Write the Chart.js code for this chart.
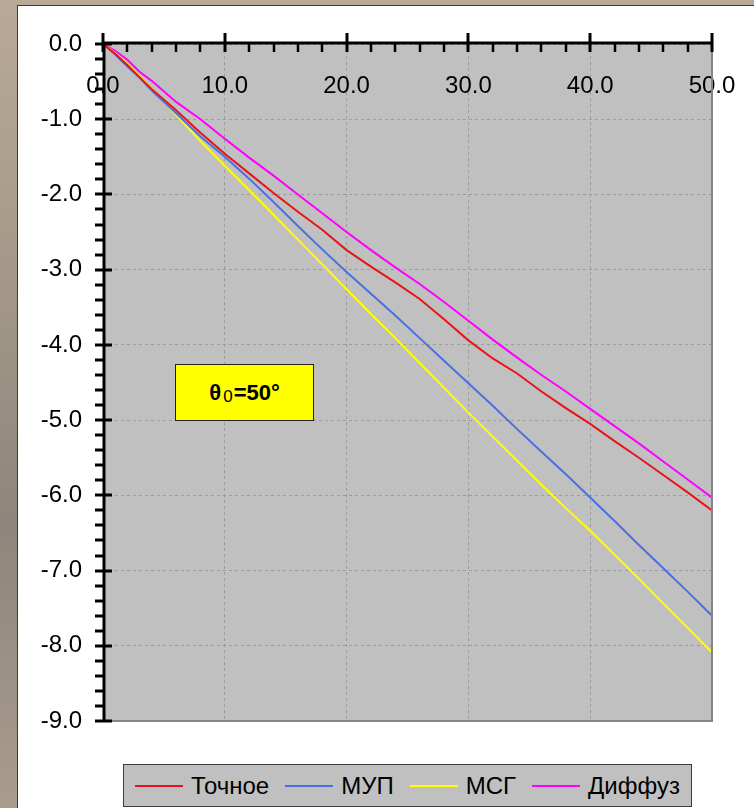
<!DOCTYPE html>
<html>
<head>
<meta charset="utf-8">
<script src="https://cdn.jsdelivr.net/npm/chart.js@4.4.0/dist/chart.umd.min.js"></script>
<style>
  html, body { margin: 0; padding: 0; }
  body {
    width: 754px; height: 808px; overflow: hidden; position: relative;
    background: linear-gradient(180deg, #b8aa96 0%, #a39888 35%, #8e867c 65%, #a89c8d 100%);
    font-family: "Liberation Sans", Arial, sans-serif;
  }
  #panel {
    position: absolute; left: 17px; top: 5px; right: 0; bottom: 0;
    background: #fff; border-left: 1px solid #3a3a3a; border-top: 1px solid #3a3a3a;
  }
  #chart { position: absolute; left: 0; top: 0; }
  #note {
    position: absolute; left: 175px; top: 364px; width: 139px; height: 57px;
    box-sizing: border-box; border: 1px solid #222; background: #ffff00;
    display: flex; align-items: center; justify-content: center;
    font: bold 22px "Liberation Sans", Arial, sans-serif; color: #000;
  }
  #note sub { font-size: 17px; font-weight: normal; position: relative; top: 4px; vertical-align: baseline; margin: 0 1px 0 2px; }
  #legend {
    position: absolute; left: 123px; top: 764px; width: 569px; height: 43px;
    box-sizing: border-box; border: 1px solid #3c3c3c; background: #c0c0c0;
    display: flex; align-items: center; justify-content: center; gap: 16px;
    font: 24px "Liberation Sans", Arial, sans-serif; color: #000;
  }
  #legend .item { display: flex; align-items: center; }
  #legend .swatch { width: 48px; height: 2px; margin-right: 8px; }
</style>
</head>
<body>
<div id="panel"></div>
<canvas id="chart" width="754" height="808"></canvas>
<div id="note">θ<sub>0</sub>=50°</div>
<div id="legend"></div>
<script>
// x positions shared by all curves
const xValues = [0, 1, 2, 3, 4, 6, 8, 10, 12, 14, 16, 18, 20, 22, 24, 26, 28, 30,
  32, 34, 36, 38, 40, 42, 44, 46, 48, 50];

const exact = [0, -0.13, -0.28, -0.44, -0.60, -0.88, -1.18, -1.46, -1.72, -1.98, -2.23, -2.47,
  -2.74, -2.96, -3.17, -3.39, -3.66, -3.94, -4.18, -4.38, -4.62, -4.84, -5.05, -5.28, -5.50,
  -5.73, -5.96, -6.20];
const mup = [0, -0.14, -0.30, -0.45, -0.62, -0.92, -1.23, -1.50, -1.79, -2.10, -2.42, -2.73,
  -3.03, -3.32, -3.61, -3.91, -4.21, -4.51, -4.81, -5.12, -5.42, -5.72, -6.03, -6.34, -6.66,
  -6.97, -7.28, -7.60];
const msg = [0, -0.12, -0.27, -0.43, -0.60, -0.94, -1.29, -1.62, -1.94, -2.27, -2.60, -2.93,
  -3.26, -3.59, -3.91, -4.24, -4.57, -4.90, -5.22, -5.54, -5.86, -6.17, -6.47, -6.79, -7.11,
  -7.44, -7.76, -8.09];
const diffuz = [0, -0.09, -0.21, -0.37, -0.49, -0.77, -1.00, -1.26, -1.51, -1.75, -2.00, -2.25,
  -2.50, -2.74, -2.97, -3.19, -3.43, -3.68, -3.93, -4.17, -4.40, -4.62, -4.85, -5.08, -5.31,
  -5.55, -5.79, -6.03];

const seriesNames = ['Точное', 'МУП', 'МСГ', 'Диффуз'];
const seriesColors = ['#e8141b', '#4a6fe3', '#ffff00', '#ff00ff'];

const toPoints = (ys) => xValues.map((x, i) => ({ x: x, y: ys[i] }));
const fmt = (v) => Number(v).toFixed(1);

// gray plot background, frame, black axes with major/minor ticks
const plotFrame = {
  id: 'plotFrame',
  beforeDraw(chart) {
    const { ctx, chartArea: a } = chart;
    ctx.save();
    ctx.fillStyle = '#c0c0c0';
    ctx.fillRect(a.left, a.top, a.right - a.left, a.bottom - a.top);
    ctx.restore();
  },
  afterDatasetsDraw(chart) {
    const { ctx, chartArea: a } = chart;
    const x = chart.scales.x, y = chart.scales.y;
    ctx.save();
    ctx.strokeStyle = '#858585';
    ctx.lineWidth = 2;
    ctx.beginPath();
    ctx.moveTo(a.right, a.top);
    ctx.lineTo(a.right, a.bottom);
    ctx.lineTo(a.left, a.bottom);
    ctx.stroke();

    ctx.strokeStyle = '#000';
    ctx.lineWidth = 3;
    ctx.beginPath();
    ctx.moveTo(a.left, a.top - 1);
    ctx.lineTo(a.right + 1, a.top - 1);
    ctx.moveTo(a.left + 1, a.top - 1);
    ctx.lineTo(a.left + 1, a.bottom);
    ctx.stroke();

    // x ticks every 2, major every 10
    for (let i = 0; i <= 25; i++) {
      const px = Math.round(x.getPixelForValue(i * 2));
      const major = i % 5 === 0;
      ctx.lineWidth = major ? 3 : 2.5;
      ctx.beginPath();
      ctx.moveTo(px, major ? a.top - 11 : a.top - 1);
      ctx.lineTo(px, a.top + 8);
      ctx.stroke();
    }
    // y ticks every 0.2, major every 1
    ctx.lineWidth = 3;
    for (let i = 0; i <= 45; i++) {
      const py = Math.round(y.getPixelForValue(-i * 0.2));
      const major = i % 5 === 0;
      ctx.beginPath();
      ctx.moveTo(a.left - 8, py);
      ctx.lineTo(major ? a.left + 9 : a.left + 1, py);
      ctx.stroke();
    }
    ctx.restore();
  }
};

const tickFont = { family: '"Liberation Sans", Arial, sans-serif', size: 24 };

const chart = new Chart(document.getElementById('chart'), {
  type: 'line',
  data: {
    datasets: [exact, mup, msg, diffuz].map((ys, i) => ({
      label: seriesNames[i],
      data: toPoints(ys),
      borderColor: seriesColors[i],
      backgroundColor: seriesColors[i],
      borderWidth: 2,
      pointRadius: 0,
      tension: 0,
      fill: false,
    })),
  },
  options: {
    responsive: false,
    animation: false,
    devicePixelRatio: 1,
    layout: { padding: { left: 0, top: 0, right: 42, bottom: 87 } },
    plugins: { legend: { display: false }, tooltip: { enabled: false } },
    scales: {
      x: {
        type: 'linear',
        position: 'top',
        min: 0,
        max: 50,
        grid: { color: '#9c9c9c', lineWidth: 1, drawTicks: false },
        border: { display: false, dash: [3, 3] },
        ticks: {
          stepSize: 10,
          mirror: true,   // labels sit inside the plot, under the top axis
          padding: 28,
          maxRotation: 0,
          autoSkip: false,
          color: '#000',
          font: tickFont,
          callback: fmt,
        },
        afterFit: (s) => { s.height = 44; s.paddingLeft = 0; s.paddingRight = 0; },
      },
      y: {
        type: 'linear',
        position: 'left',
        min: -9,
        max: 0,
        grid: { color: '#9c9c9c', lineWidth: 1, drawTicks: false },
        border: { display: false, dash: [3, 3] },
        ticks: {
          stepSize: 1,
          padding: 21,
          autoSkip: false,
          color: '#000',
          font: tickFont,
          callback: fmt,
        },
        afterFit: (s) => { s.width = 103; },
      },
    },
  },
  plugins: [plotFrame],
});

// legend built from the chart's datasets
const legendEl = document.getElementById('legend');
chart.data.datasets.forEach((ds) => {
  const item = document.createElement('span');
  item.className = 'item';
  const sw = document.createElement('span');
  sw.className = 'swatch';
  sw.style.background = ds.borderColor;
  const tx = document.createElement('span');
  tx.textContent = ds.label;
  item.appendChild(sw);
  item.appendChild(tx);
  legendEl.appendChild(item);
});
</script>
</body>
</html>
